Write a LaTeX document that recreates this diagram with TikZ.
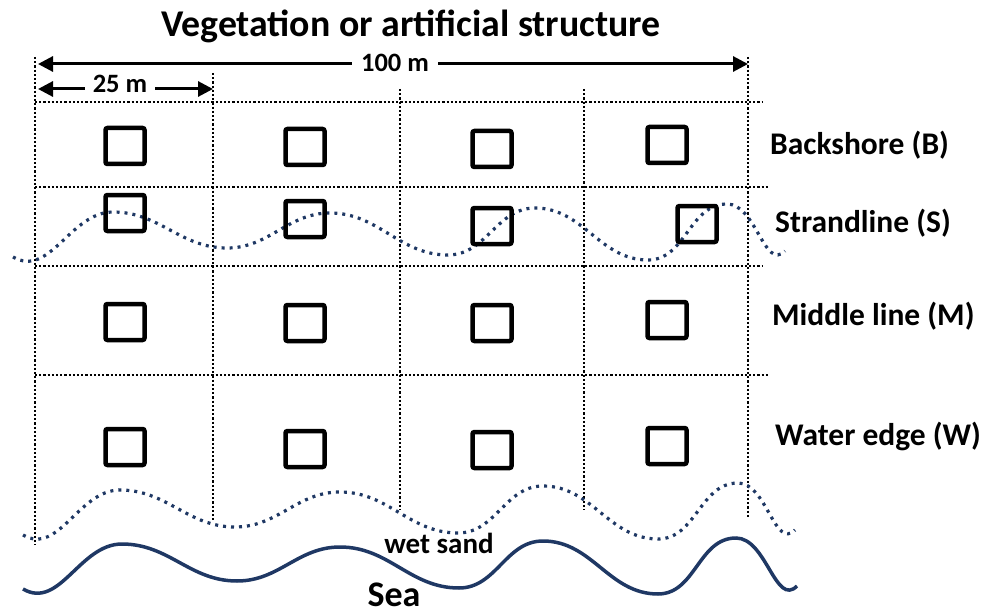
\documentclass[tikz,border=0pt]{standalone}
\usepackage{fontspec}
\setmainfont{Carlito}
\usetikzlibrary{arrows.meta}
\definecolor{navy}{RGB}{31,56,100}
\begin{document}
\begin{tikzpicture}[x=1pt,y=-1pt,
  grid/.style={line width=2.5pt, dash pattern=on 2.2pt off 2pt},
  wavedot/.style={navy, line width=3.2pt, dash pattern=on 3pt off 5pt},
  seaw/.style={navy, line width=3.5pt},
  quad/.style={draw, line width=4.5pt, rounded corners=2pt, minimum width=39pt, minimum height=36pt, inner sep=0pt},
  lab/.style={font=\bfseries\fontsize{31.5}{31.5}\selectfont, inner sep=0pt},
  dimlab/.style={font=\bfseries\fontsize{26.5}{26.5}\selectfont, inner sep=0pt},
  dim/.style={line width=3pt, -{Triangle[length=15pt,width=15pt]}},
]
\useasboundingbox (0,0) rectangle (988,615);

% grid
\draw[grid] (35,57) -- (35,545);
\draw[grid] (213,73) -- (213,522);
\draw[grid] (400,89) -- (400,510);
\draw[grid] (584,89) -- (584,510);
\draw[grid] (748,57) -- (748,518);
\draw[grid] (35,102) -- (763,102);
\draw[grid] (35,187) -- (768,187);
\draw[grid] (35,266) -- (763,266);
\draw[grid] (35,375) -- (768,375);

% waves
\draw[wavedot] (13,257) to[out=-30,in=180] (113,212) to[out=0,in=180] (227,248)
  to[out=0,in=180] (330,213) to[out=0,in=180] (448,255) to[out=0,in=180] (535,208)
  to[out=0,in=180] (648,260) to[out=0,in=180] (727,204) to[out=0,in=225] (785,251);
\draw[wavedot] (23,535) to[out=-30,in=180] (120,490) to[out=0,in=180] (235,527)
  to[out=0,in=180] (340,492) to[out=0,in=180] (458,533) to[out=0,in=180] (543,486)
  to[out=0,in=180] (658,539) to[out=0,in=180] (738,483) to[out=0,in=225] (795,530);
\draw[seaw] (23,589) to[out=-30,in=180] (122,544) to[out=0,in=180] (237,581)
  to[out=0,in=180] (340,547) to[out=0,in=180] (459,588) to[out=0,in=180] (543,541)
  to[out=0,in=180] (658,594) to[out=0,in=180] (736,538) to[out=0,in=225] (797,586);

% quadrats
\node[quad] (b1) at (125,146) {};
\node[quad] (b2) at (305,147) {};
\node[quad] (b3) at (492,149) {};
\node[quad] (b4) at (667,145) {};
\node[quad] (s1) at (125,213) {};
\node[quad] (s2) at (305,219) {};
\node[quad] (s3) at (492,226) {};
\node[quad] (s4) at (697,224) {};
\node[quad] (m1) at (125,322) {};
\node[quad] (m2) at (305,323) {};
\node[quad] (m3) at (492,323) {};
\node[quad] (m4) at (667,320) {};
\node[quad] (w1) at (125,447) {};
\node[quad] (w2) at (305,449) {};
\node[quad] (w3) at (492,450) {};
\node[quad] (w4) at (667,446) {};

% title
\node[font=\bfseries\fontsize{37.8}{37.8}\selectfont, inner sep=0pt, anchor=base] (title) at (411,37) {Vegetation or artificial structure};

% dimensions
\node[dimlab, anchor=base, fill=white, inner xsep=9pt] (d100) at (395,72) {100 m};
\coordinate (L100) at (38,64);
\coordinate (R100) at (748,64);
\draw[dim] (d100.west |- L100) -- (L100);
\draw[dim] (d100.east |- R100) -- (R100);
\node[dimlab, anchor=base, fill=white, inner xsep=8pt] (d25) at (120,93) {25 m};
\coordinate (L25) at (38,89);
\coordinate (R25) at (213,89);
\draw[dim] (d25.west |- L25) -- (L25);
\draw[dim] (d25.east |- R25) -- (R25);

% zone labels
\node[lab, anchor=base west] (lb) at (770,155) {Backshore (B)};
\node[lab, anchor=base west] (ls) at (775,232) {Strandline (S)};
\node[lab, anchor=base west] (lm) at (772,325) {Middle line (M)};
\node[lab, anchor=base west] (lw) at (775,445) {Water edge (W)};

% sea labels
\node[font=\bfseries\fontsize{29}{29}\selectfont, inner sep=0pt, anchor=base] (wet) at (439,553) {wet sand};
\node[font=\bfseries\fontsize{36}{36}\selectfont, inner sep=0pt, anchor=base] (sea) at (394,606) {Sea};
\end{tikzpicture}
\end{document}
